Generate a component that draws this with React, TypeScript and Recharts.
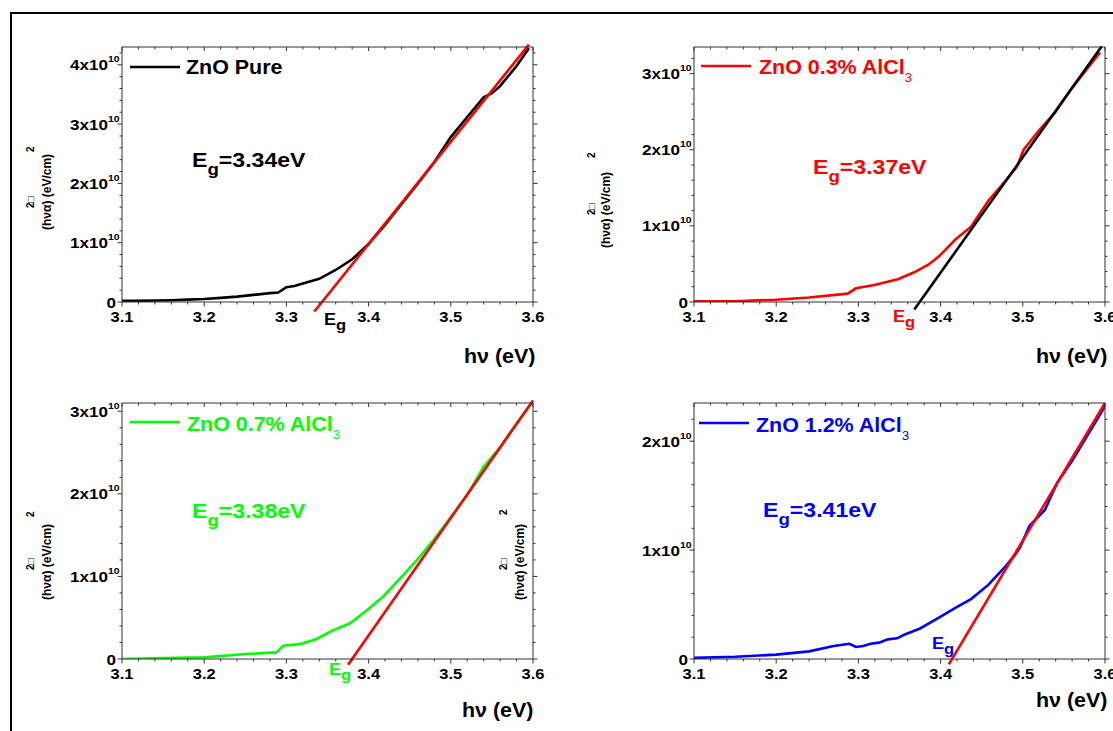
import React from "react";
import { LineChart, Line, XAxis, YAxis, ReferenceLine } from "recharts";

const FONT = '"Liberation Sans", Arial, Helvetica, sans-serif';
const SX = 1.1; // the source picture is a little stretched sideways
const AX = "#333";

// photon energy hν (eV) and (αhν)² in units of 1e10 (eV/cm)²
const pureE = [3.1, 3.12, 3.14, 3.16, 3.18, 3.2, 3.22, 3.24, 3.26, 3.28, 3.29, 3.3, 3.31, 3.32, 3.34, 3.36, 3.38, 3.4, 3.42, 3.44, 3.46, 3.48, 3.5, 3.52, 3.54, 3.55, 3.56, 3.58, 3.595];
const pureA = [0.02, 0.02, 0.025, 0.03, 0.04, 0.05, 0.07, 0.09, 0.12, 0.15, 0.16, 0.25, 0.27, 0.31, 0.39, 0.54, 0.72, 0.98, 1.3, 1.65, 2.0, 2.36, 2.78, 3.12, 3.45, 3.52, 3.64, 3.98, 4.28];

const al03E = [3.1, 3.15, 3.2, 3.24, 3.287, 3.297, 3.318, 3.348, 3.368, 3.385, 3.398, 3.418, 3.437, 3.458, 3.478, 3.493, 3.501, 3.52, 3.54, 3.559, 3.594];
const al03A = [0.01, 0.01, 0.03, 0.06, 0.11, 0.18, 0.22, 0.3, 0.39, 0.49, 0.6, 0.82, 0.99, 1.33, 1.58, 1.78, 2.0, 2.26, 2.5, 2.8, 3.28];

const al07E = [3.1, 3.15, 3.2, 3.25, 3.288, 3.296, 3.316, 3.336, 3.357, 3.377, 3.398, 3.418, 3.437, 3.459, 3.479, 3.5, 3.519, 3.54, 3.559, 3.579, 3.6];
const al07A = [0.0, 0.01, 0.02, 0.06, 0.08, 0.16, 0.18, 0.24, 0.35, 0.43, 0.59, 0.76, 0.96, 1.2, 1.44, 1.72, 1.97, 2.33, 2.55, 2.84, 3.12];

const al12E = [3.1, 3.15, 3.2, 3.24, 3.27, 3.289, 3.297, 3.306, 3.315, 3.325, 3.336, 3.347, 3.355, 3.375, 3.398, 3.418, 3.437, 3.458, 3.479, 3.491, 3.497, 3.508, 3.527, 3.542, 3.561, 3.6];
const al12A = [0.01, 0.02, 0.04, 0.07, 0.12, 0.14, 0.11, 0.12, 0.14, 0.15, 0.18, 0.19, 0.22, 0.28, 0.38, 0.47, 0.55, 0.68, 0.85, 0.96, 1.03, 1.22, 1.37, 1.62, 1.83, 2.32];

// linear fits (end points) used to read Eg
const pureFitE = [3.334, 3.595];
const pureFitA = [-0.16, 4.34];
const al03FitE = [3.368, 3.596];
const al03FitA = [-0.1, 3.36];
const al07FitE = [3.375, 3.6];
const al07FitA = [-0.07, 3.13];
const al12FitE = [3.41, 3.6];
const al12FitA = [-0.05, 2.35];

const names = ["ZnO Pure", "ZnO 0.3% AlCl", "ZnO 0.7% AlCl", "ZnO 1.2% AlCl"];
const gaps = ["3.34", "3.37", "3.38", "3.41"];
const yMax = [4.3, 3.35, 3.1, 2.35];

const X_DOMAIN = [3.1, 3.6];

const steps = (from: number, to: number, step: number) => {
  const out: number[] = [];
  for (let i = 0; from + i * step <= to + 1e-9; i++) out.push(+(from + i * step).toFixed(3));
  return out;
};
const isMajor = (v: number, k: number) => Math.abs(v * k - Math.round(v * k)) < 1e-6;

const xTicks = steps(3.1, 3.6, 0.02);

const panels = [
  { e: pureE, a: pureA, fe: pureFitE, fa: pureFitA, color: "#000000", fit: "#ff0000", sub: false },
  { e: al03E, a: al03A, fe: al03FitE, fa: al03FitA, color: "#ff0000", fit: "#000000", sub: true },
  { e: al07E, a: al07A, fe: al07FitE, fa: al07FitA, color: "#00ff00", fit: "#ff0000", sub: true },
  { e: al12E, a: al12A, fe: al12FitE, fa: al12FitA, color: "#0000ff", fit: "#ff0000", sub: true },
];

// plot-area boxes on the page and text placement
const layout = [
  { left: 122, top: 47, h: 255, leg: [130, 67, 186, 74], egT: [192, 167], egA: [324, 325], hv: [464, 363], yt: [51, 230, 22, 78, 34] },
  { left: 694, top: 47, h: 255, leg: [701, 66, 759, 74], egT: [813, 174], egA: [893, 322], hv: [1036, 363], yt: [610, 248, 33, 90, 595] },
  { left: 122, top: 403, h: 256, leg: [130, 422, 187, 431], egT: [192, 518], egA: [329, 675], hv: [462, 717], yt: [51, 600, 30, 83, 34] },
  { left: 694, top: 403, h: 256, leg: [699, 423, 756, 432], egT: [763, 517], egA: [932, 649], hv: [1036, 707], yt: [524, 600, 30, 85, 507] },
];
const W = 411;

function Panel({ idx }: { idx: number }) {
  const p = panels[idx];
  const L = layout[idx];
  const H = L.h;
  const data = p.e.map((e, i) => ({ e, a: p.a[i] }));
  const yTicks = steps(0, yMax[idx], 0.2);
  const base = H + 10;
  const right = W + 70;

  // bottom ticks + labels, mirrored inward ticks on the top edge
  const xTick = (t: any) => {
    const v = t.payload.value;
    const m = isMajor(v, 10);
    return (
      <g>
        <line x1={t.x} x2={t.x} y1={base} y2={base + (m ? 4.5 : 2.5)} stroke={AX} />
        <line x1={t.x} x2={t.x} y1={10} y2={m ? 14 : 12.5} stroke={AX} />
        {m && (
          <text transform={`translate(${t.x},${base + 19.5}) scale(${SX},1)`} textAnchor="middle" fontSize={15} fontWeight="bold" fontFamily={FONT} fill="#000">
            {v.toFixed(1)}
          </text>
        )}
      </g>
    );
  };
  // left ticks + labels, mirrored outward ticks on the right edge
  const yTick = (t: any) => {
    const v = t.payload.value;
    const m = isMajor(v, 1);
    return (
      <g>
        <line x1={70} x2={70 - (m ? 4.5 : 2.5)} y1={t.y} y2={t.y} stroke={AX} />
        <line x1={right} x2={right + (m ? 4.5 : 2.5)} y1={t.y} y2={t.y} stroke={AX} />
        {m && (
          <text transform={`translate(${v === 0 ? 64 : 67.5},${t.y + 5.5}) scale(${SX},1)`} textAnchor="end" fontSize={15.5} fontWeight="bold" fontFamily={FONT} fill="#000">
            {v === 0 ? "0" : (
              <>
                {`${Math.round(v)}x10`}
                <tspan fontSize={9.5} dy={-8}>10</tspan>
              </>
            )}
          </text>
        )}
      </g>
    );
  };

  return (
    <div style={{ position: "absolute", left: L.left - 70, top: L.top - 10 }}>
      <LineChart width={W + 90} height={H + 50} data={data} margin={{ top: 9, right: 12, bottom: 10, left: 0 }}>
        <XAxis xAxisId="b" dataKey="e" type="number" domain={X_DOMAIN} allowDataOverflow ticks={xTicks} interval={0} height={30} tickLine={false} axisLine={{ stroke: AX }} tick={xTick} />
        <XAxis xAxisId="t" orientation="top" type="number" domain={X_DOMAIN} allowDataOverflow height={1} tickLine={false} axisLine={{ stroke: AX }} tick={false} />
        <YAxis yAxisId="l" type="number" domain={[0, yMax[idx]]} allowDataOverflow ticks={yTicks} interval={0} width={70} tickLine={false} axisLine={{ stroke: AX }} tick={yTick} />
        <YAxis yAxisId="r" orientation="right" type="number" domain={[0, yMax[idx]]} allowDataOverflow width={8} tickLine={false} axisLine={{ stroke: AX }} tick={false} />
        <Line xAxisId="b" yAxisId="l" dataKey="a" type="linear" stroke={p.color} strokeWidth={2.6} dot={false} activeDot={false} isAnimationActive={false} />
        <ReferenceLine
          xAxisId="b"
          yAxisId="l"
          segment={[{ x: p.fe[0], y: p.fa[0] }, { x: p.fe[1], y: p.fa[1] }]}
          ifOverflow="visible"
          stroke={p.fit}
          strokeWidth={2.6}
        />
      </LineChart>
    </div>
  );
}

function Texts({ idx }: { idx: number }) {
  const p = panels[idx];
  const L = layout[idx];
  const [lx, ly, tx, ty] = L.leg;
  const [yb, yy, s1, s2, sx] = L.yt;
  const t = (x: number, y: number) => `translate(${x},${y}) scale(${SX},1)`;
  return (
    <g fontFamily={FONT} fontWeight="bold">
      <line x1={lx} x2={lx + 50} y1={ly} y2={ly} stroke={p.color} strokeWidth={2.6} />
      <text transform={t(tx, ty)} fontSize={19.5} fill={p.color}>
        {names[idx]}
        {p.sub && <tspan fontSize={12} fontWeight="normal" dy={8}>3</tspan>}
      </text>
      <text transform={t(L.egT[0], L.egT[1])} fontSize={21} fill={p.color}>
        E<tspan fontSize={17} dy={8}>g</tspan>
        <tspan dy={-8}>{`=${gaps[idx]}eV`}</tspan>
      </text>
      <text transform={t(L.egA[0], L.egA[1])} fontSize={16.5} fill={p.color}>
        E<tspan fontSize={15} dy={5}>g</tspan>
      </text>
      <text transform={t(L.hv[0], L.hv[1])} fontSize={19.5} fill="#000">
        hν (eV)
      </text>
      <g transform={`translate(${yb},${yy}) rotate(-90)`} fill="#000">
        <text x={0} y={0} fontSize={12}>(hνα) (eV/cm)</text>
        <text x={s1} y={sx - yb} fontSize={10}>2□</text>
        <text x={s2} y={sx - yb} fontSize={10}>2</text>
      </g>
    </g>
  );
}

export default function App() {
  return (
    <div style={{ position: "absolute", left: 0, top: 0, width: 1113, height: 731, overflow: "hidden", background: "#fff" }}>
      {panels.map((_, i) => (
        <Panel key={i} idx={i} />
      ))}
      <svg width={1113} height={731} style={{ position: "absolute", left: 0, top: 0, pointerEvents: "none" }}>
        <line x1={10} x2={1113} y1={13} y2={13} stroke="#000" strokeWidth={2} />
        <line x1={11} x2={11} y1={12} y2={731} stroke="#000" strokeWidth={2} />
        {panels.map((_, i) => (
          <Texts key={i} idx={i} />
        ))}
      </svg>
    </div>
  );
}
